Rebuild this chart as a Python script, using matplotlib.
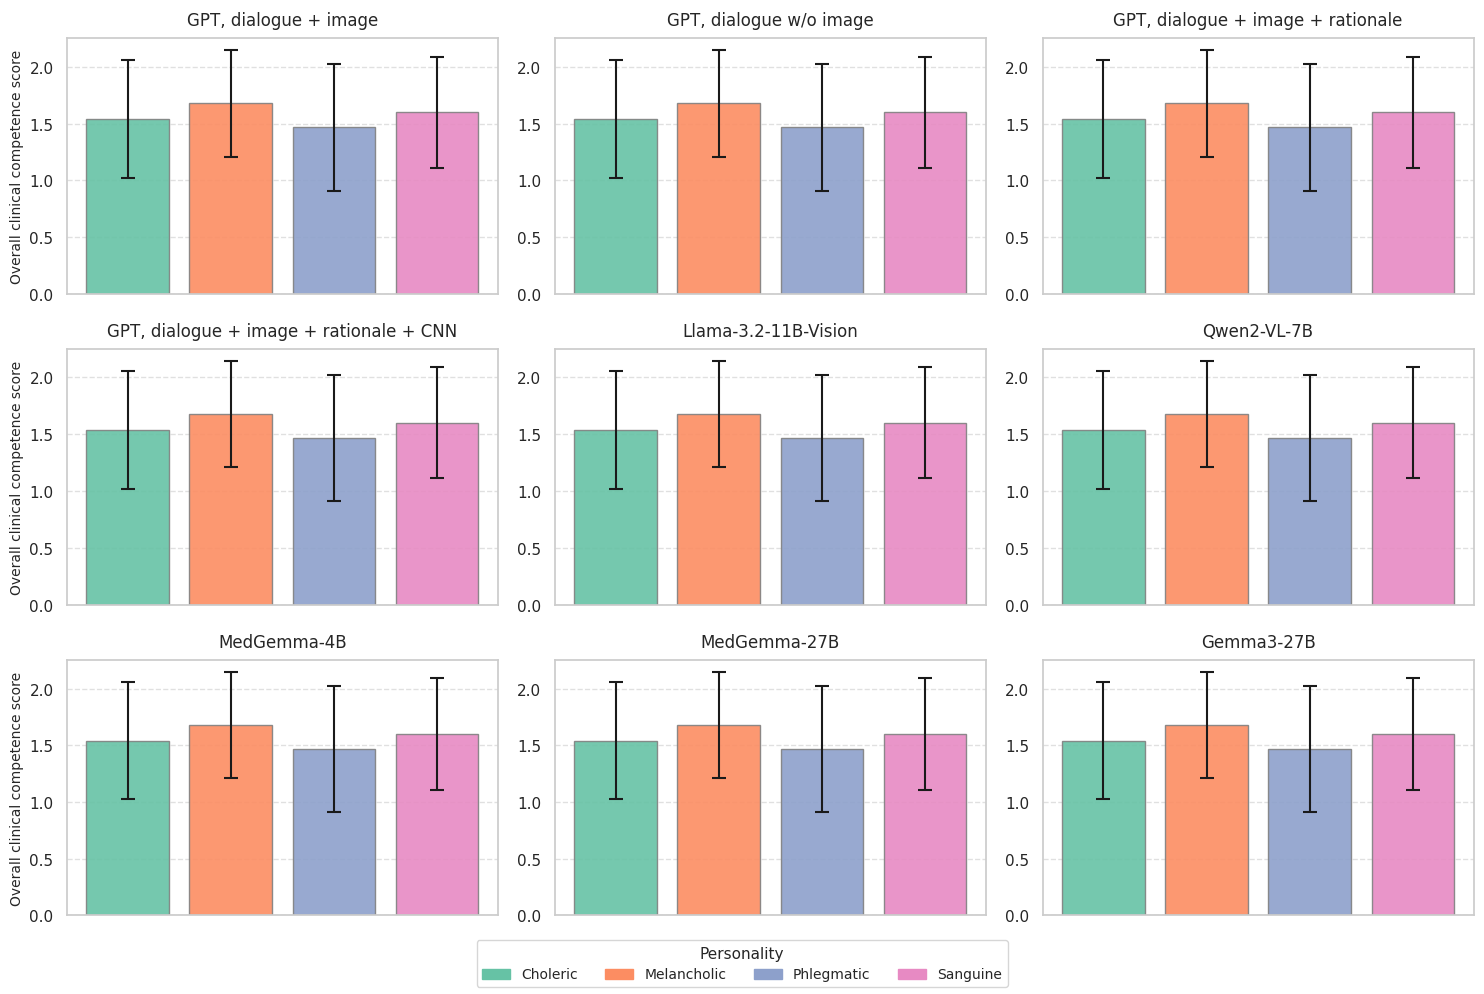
import numpy as np
import matplotlib.pyplot as plt
import matplotlib.patches as mpatches
import seaborn as sns

sns.set_theme(style="whitegrid")

personalities = ['Choleric', 'Melancholic', 'Phlegmatic', 'Sanguine']
models = ['GPT, dialogue + image', 'GPT, dialogue w/o image', 'GPT, dialogue + image + rationale',
          'GPT, dialogue + image + rationale + CNN', 'Llama-3.2-11B-Vision', 'Qwen2-VL-7B',
          'MedGemma-4B', 'MedGemma-27B', 'Gemma3-27B']

# mean score per personality, one row per model
means = [
    [1.54, 1.68, 1.47, 1.60],
    [1.54, 1.68, 1.47, 1.60],
    [1.54, 1.68, 1.47, 1.60],
    [1.535, 1.68, 1.465, 1.60],
    [1.535, 1.68, 1.465, 1.60],
    [1.535, 1.68, 1.465, 1.60],
    [1.54, 1.68, 1.465, 1.60],
    [1.54, 1.68, 1.465, 1.60],
    [1.54, 1.68, 1.465, 1.60],
]
# standard deviations
stds = [
    [0.52, 0.47, 0.56, 0.49],
    [0.52, 0.47, 0.56, 0.49],
    [0.52, 0.47, 0.56, 0.49],
    [0.52, 0.465, 0.555, 0.49],
    [0.52, 0.465, 0.555, 0.49],
    [0.52, 0.465, 0.555, 0.49],
    [0.515, 0.47, 0.555, 0.495],
    [0.515, 0.47, 0.555, 0.495],
    [0.515, 0.47, 0.555, 0.495],
]

colors = sns.color_palette('Set2', 4)

fig, axes = plt.subplots(3, 3, figsize=(14.84, 9.95), dpi=100)
x = np.arange(len(personalities))

for i, ax in enumerate(axes.flat):
    ax.bar(x, means[i], yerr=stds[i], color=colors, alpha=0.9, edgecolor='gray',
           width=0.8, capsize=5, error_kw={'elinewidth': 1.5, 'capthick': 1.5, 'ecolor': 'k'})
    ax.set_title(models[i], fontsize=12, pad=9)
    ax.set_xticks([])
    ax.grid(axis='y', linestyle='--', alpha=0.6)
    ax.grid(axis='x', visible=False)
    ax.tick_params(axis='y', labelsize=11)
    if i % 3 == 0:
        ax.set_ylabel('Overall clinical competence score', fontsize=10)

handles = [mpatches.Patch(color=colors[k], label=personalities[k]) for k in range(4)]
fig.legend(handles=handles, title='Personality', loc='lower center', ncol=4,
           bbox_to_anchor=(0.5, 0.0), fontsize=10, title_fontsize=11)

plt.subplots_adjust(left=0.045, right=0.993, top=0.961, bottom=0.079, wspace=0.132, hspace=0.215)
plt.savefig('out.png')
